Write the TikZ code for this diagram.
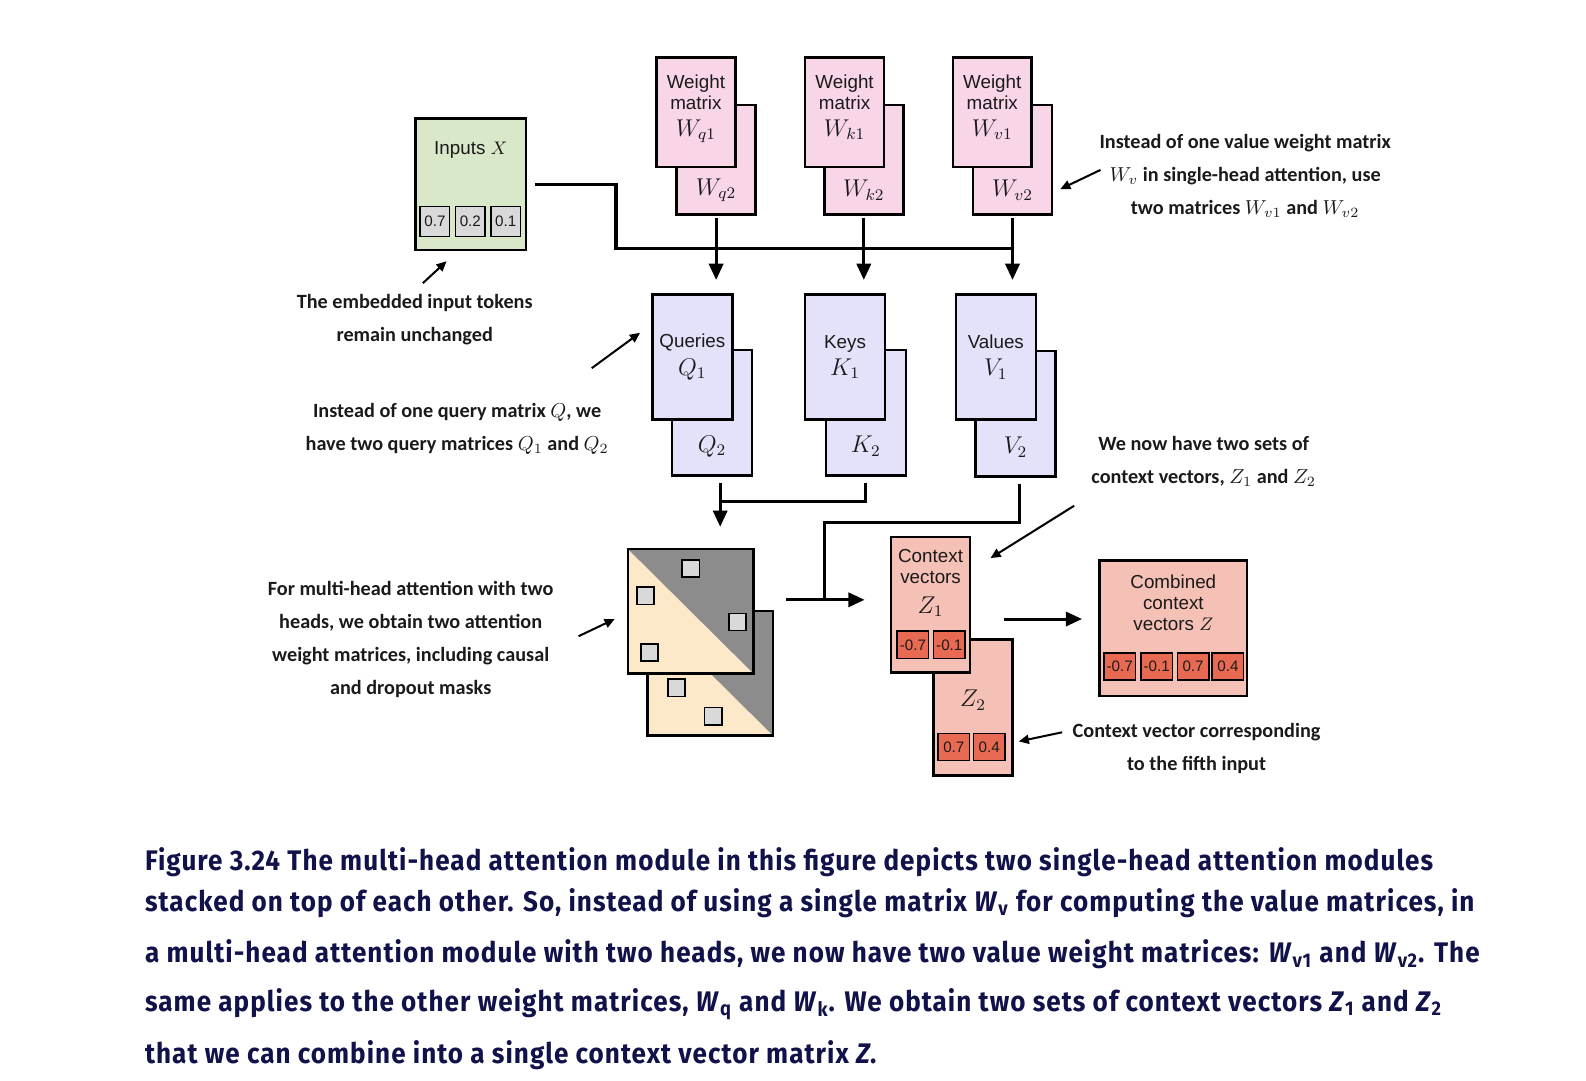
\documentclass[tikz,border=0pt]{standalone}
\usepackage{fontspec}
\setmainfont{Liberation Sans}
\newfontfamily\notefont{Carlito}
\newfontfamily\capfont[FakeStretch=0.92,LetterSpace=3.7]{Fira Sans}
\usepackage{tikz}
\usetikzlibrary{positioning}
\usetikzlibrary{arrows.meta}
\usepackage{xcolor}
\definecolor{ingreen}{HTML}{D9E8C8}
\definecolor{wpink}{HTML}{F9D6E7}
\definecolor{qlav}{HTML}{E4E2FA}
\definecolor{attbeige}{HTML}{FDE9C9}
\definecolor{attgray}{HTML}{8C8C8C}
\definecolor{cellgray}{HTML}{D9D9D9}
\definecolor{zsalmon}{HTML}{F5C0B5}
\definecolor{zred}{HTML}{E96A52}
\definecolor{capnavy}{HTML}{12124A}
\definecolor{notegray}{HTML}{1A1A1A}
\newcommand{\cardmath}[1]{{\fontsize{11.5}{13}\selectfont$#1$}}

\begin{document}
\begin{tikzpicture}[x=0.5pt,y=-0.5pt,
    card/.style={draw,line width=1.25pt,inner sep=0pt,align=center,text=notegray,font=\fontsize{9.3}{10.5}\selectfont},
    incard/.style={card,fill=ingreen,minimum width=54.5pt,minimum height=65pt},
    wcard/.style={card,fill=wpink,minimum width=39pt,minimum height=54pt},
    qcard/.style={card,fill=qlav,minimum width=39.5pt,minimum height=62pt},
    attcard/.style={card,fill=attbeige,minimum width=62pt,minimum height=61.5pt,
      path picture={\fill[attgray] (path picture bounding box.north west) -- (path picture bounding box.north east) -- (path picture bounding box.south east) -- cycle;}},
    zcard/.style={card,fill=zsalmon,minimum width=39pt,minimum height=67pt},
    combcard/.style={card,fill=zsalmon,minimum width=73pt,minimum height=67pt},
    cardtext/.style={inner sep=0pt,align=center,text=notegray,font=\fontsize{9.3}{10.5}\selectfont},
    cell/.style={draw,line width=0.8pt,inner sep=0pt,text=notegray,font=\fontsize{7.5}{8}\selectfont},
    incell/.style={cell,fill=cellgray,minimum width=14.5pt,minimum height=15pt},
    zcell/.style={cell,fill=zred,minimum width=15.5pt,minimum height=13.5pt},
    mask/.style={cell,fill=cellgray,minimum size=8.5pt},
    note/.style={align=center,text=notegray,font=\notefont\bfseries\fontsize{10}{16.3}\selectfont},
    conn/.style={line width=1.5pt},
    arr/.style={conn,-{Triangle[length=8pt,width=7pt]}},
    ann/.style={line width=1pt,-{Triangle[length=5pt,width=4.5pt]}},
    capline/.style={anchor=base west,inner sep=0pt,text=capnavy,font=\capfont\bfseries\fontsize{14}{16}\selectfont}]

  \useasboundingbox (0,0) rectangle (1568,1068);

  \node[incard] (in) at (465.5,182) {};
  \node[cardtext] (intxt) at (465.5,148) {Inputs $X$};
  \node[incell] (in1) at (430,219) {0.7};
  \node[incell] (in2) at (465,219) {0.2};
  \node[incell] (in3) at (500,219) {0.1};

  \node[wcard] (wq2) at (708,158) {};
  \node[wcard] (wq1) at (688,111) {};
  \node[cardtext,anchor=north] (wq1txt) at ([yshift=-9pt]wq1.north) {Weight\\matrix\\[2.5pt]\cardmath{W_{q1}}};
  \node[cardtext] (wq2txt) at ([yshift=12.5pt]wq2.south) {\cardmath{W_{q2}}};
  \node[wcard] (wk2) at (854,158) {};
  \node[wcard] (wk1) at (835,111) {};
  \node[cardtext,anchor=north] (wk1txt) at ([yshift=-9pt]wk1.north) {Weight\\matrix\\[2.5pt]\cardmath{W_{k1}}};
  \node[cardtext] (wk2txt) at ([yshift=12.5pt]wk2.south) {\cardmath{W_{k2}}};
  \node[wcard] (wv2) at (1001,158) {};
  \node[wcard] (wv1) at (981,111) {};
  \node[cardtext,anchor=north] (wv1txt) at ([yshift=-9pt]wv1.north) {Weight\\matrix\\[2.5pt]\cardmath{W_{v1}}};
  \node[cardtext] (wv2txt) at ([yshift=12.5pt]wv2.south) {\cardmath{W_{v2}}};

  \node[qcard] (q2) at (704,408) {};
  \node[qcard] (q1) at (684.5,353) {Queries\\[3pt]\cardmath{Q_1}};
  \node[cardtext] (q2txt) at ([yshift=15pt]q2.south) {\cardmath{Q_2}};
  \node[qcard] (k2) at (856,408) {};
  \node[qcard] (k1) at (835.5,353) {Keys\\[3pt]\cardmath{K_1}};
  \node[cardtext] (k2txt) at ([yshift=15pt]k2.south) {\cardmath{K_2}};
  \node[qcard] (v2) at (1004,409) {};
  \node[qcard] (v1) at (984.5,353) {Values\\[3pt]\cardmath{V_1}};
  \node[cardtext] (v2txt) at ([yshift=15pt]v2.south) {\cardmath{V_2}};

  \node[attcard] (att2) at (702,665.5) {};
  \node[mask] (m5) at (669,680) {};
  \node[mask] (m6) at (705,708) {};
  \node[attcard] (att1) at (683,604.5) {};
  \node[mask] (m1) at (683,562) {};
  \node[mask] (m2) at (638,589) {};
  \node[mask] (m3) at (729,615) {};
  \node[mask] (m4) at (642,645) {};

  \node[zcard] (z2) at (962,699.5) {};
  \node[cardtext] (z2txt) at (962,692) {\cardmath{Z_2}};
  \node[zcell] (z2a) at (943,738.5) {0.7};
  \node[zcell] (z2b) at (978,738.5) {0.4};
  \node[zcard] (z1) at (920,598) {};
  \node[cardtext,anchor=north] (z1txt) at ([yshift=-6.5pt]z1.north) {Context\\vectors\\[4pt]\cardmath{Z_1}};
  \node[zcell] (z1a) at (902.5,637.5) {-0.7};
  \node[zcell] (z1b) at (938.5,637.5) {-0.1};

  \node[combcard] (comb) at (1160,621) {};
  \node[cardtext,anchor=north] (combtxt) at ([yshift=-7.5pt]comb.north) {Combined\\context\\vectors $Z$};
  \node[zcell] (c1) at (1107,659) {-0.7};
  \node[zcell] (c2) at (1143.5,659) {-0.1};
  \node[zcell] (c3) at (1179.5,659) {0.7};
  \node[zcell] (c4) at (1214,659) {0.4};

  \coordinate (bus) at (609,246);
  \draw[conn] ([xshift=4pt]in.east) -| (bus) -- (wv2.south |- bus);
  \draw[arr] ([yshift=-1pt]wq2.south) -- ([yshift=6.5pt]wq2.south |- q1.north);
  \draw[arr] ([yshift=-1pt]wk2.south) -- ([yshift=6.5pt]wk2.south |- k1.north);
  \draw[arr] ([yshift=-1pt]wv2.south) -- ([yshift=6.5pt]wv2.south |- v1.north);

  \coordinate (qk) at (712,496);
  \draw[arr] ([xshift=4pt,yshift=-3pt]q2.south) -- ([xshift=4pt,yshift=10.5pt]q2.south |- att1.north);
  \draw[conn] ([yshift=-3pt]k2.south) |- (qk);

  \coordinate (vbend) at (815,517);
  \coordinate (vz) at (815,593);
  \draw[conn] ([xshift=2pt,yshift=-3pt]v2.south) |- (vbend) -- (vz);
  \draw[arr,shorten <=15.5pt,shorten >=12.5pt] (att1.east |- vz) -- (z1.west |- vz);

  \coordinate (zc) at (1030,612);
  \draw[arr,shorten <=16pt,shorten >=8pt] (z1.east |- zc) -- (comb.west |- zc);

  \node[note] (nemb) at (410,316) {The embedded input tokens\\remain unchanged};
  \node[note] (nq) at (452,424) {Instead of one query matrix $Q$, we\\have two query matrices $Q_1$ and $Q_2$};
  \node[note] (nv) at (1231,174) {Instead of one value weight matrix\\$W_v$ in single-head attention, use\\two matrices $W_{v1}$ and $W_{v2}$};
  \node[note] (nz) at (1190,456) {We now have two sets of\\context vectors, $Z_1$ and $Z_2$};
  \node[note] (natt) at (406,632) {For multi-head attention with two\\heads, we obtain two attention\\weight matrices, including causal\\and dropout masks};
  \node[note] (nfifth) at (1183,740) {Context vector corresponding\\to the fifth input};

  \coordinate (te) at (418,280);
  \coordinate (tq) at (585,364);
  \coordinate (tv) at (1088,168);
  \coordinate (tz) at (1062,500);
  \coordinate (ta) at (572,629);
  \coordinate (tf) at (1050,724);
  \draw[ann] (te) -- ([xshift=-12pt,yshift=-5pt]in.south);
  \draw[ann] (tq) -- ([xshift=-5.5pt,yshift=12pt]q1.west);
  \draw[ann] (tv) -- ([xshift=3.5pt,yshift=-14.5pt]wv2.east);
  \draw[ann] (tz) -- ([xshift=9.5pt,yshift=-11pt]z1.north east);
  \draw[ann] (ta) -- ([xshift=-6pt,yshift=-3.75pt]att1.west);
  \draw[ann] (tf) -- ([xshift=2.5pt,yshift=-16.75pt]z2.east);

  \node[capline] (cap1) at (143,861) {Figure 3.24 The multi-head attention module in this figure depicts two single-head attention modules};
  \node[capline] (cap2) at (143,901) {stacked on top of each other. So, instead of using a single matrix \textit{W}\textsubscript{v} for computing the value matrices, in};
  \node[capline] (cap3) at (143,952) {a multi-head attention module with two heads, we now have two value weight matrices: \textit{W}\textsubscript{v1} and \textit{W}\textsubscript{v2}. The};
  \node[capline] (cap4) at (143,1000) {same applies to the other weight matrices, \textit{W}\textsubscript{q} and \textit{W}\textsubscript{k}. We obtain two sets of context vectors \textit{Z}\textsubscript{1} and \textit{Z}\textsubscript{2}};
  \node[capline] (cap5) at (143,1051) {that we can combine into a single context vector matrix \textit{Z}.};
\end{tikzpicture}
\end{document}
